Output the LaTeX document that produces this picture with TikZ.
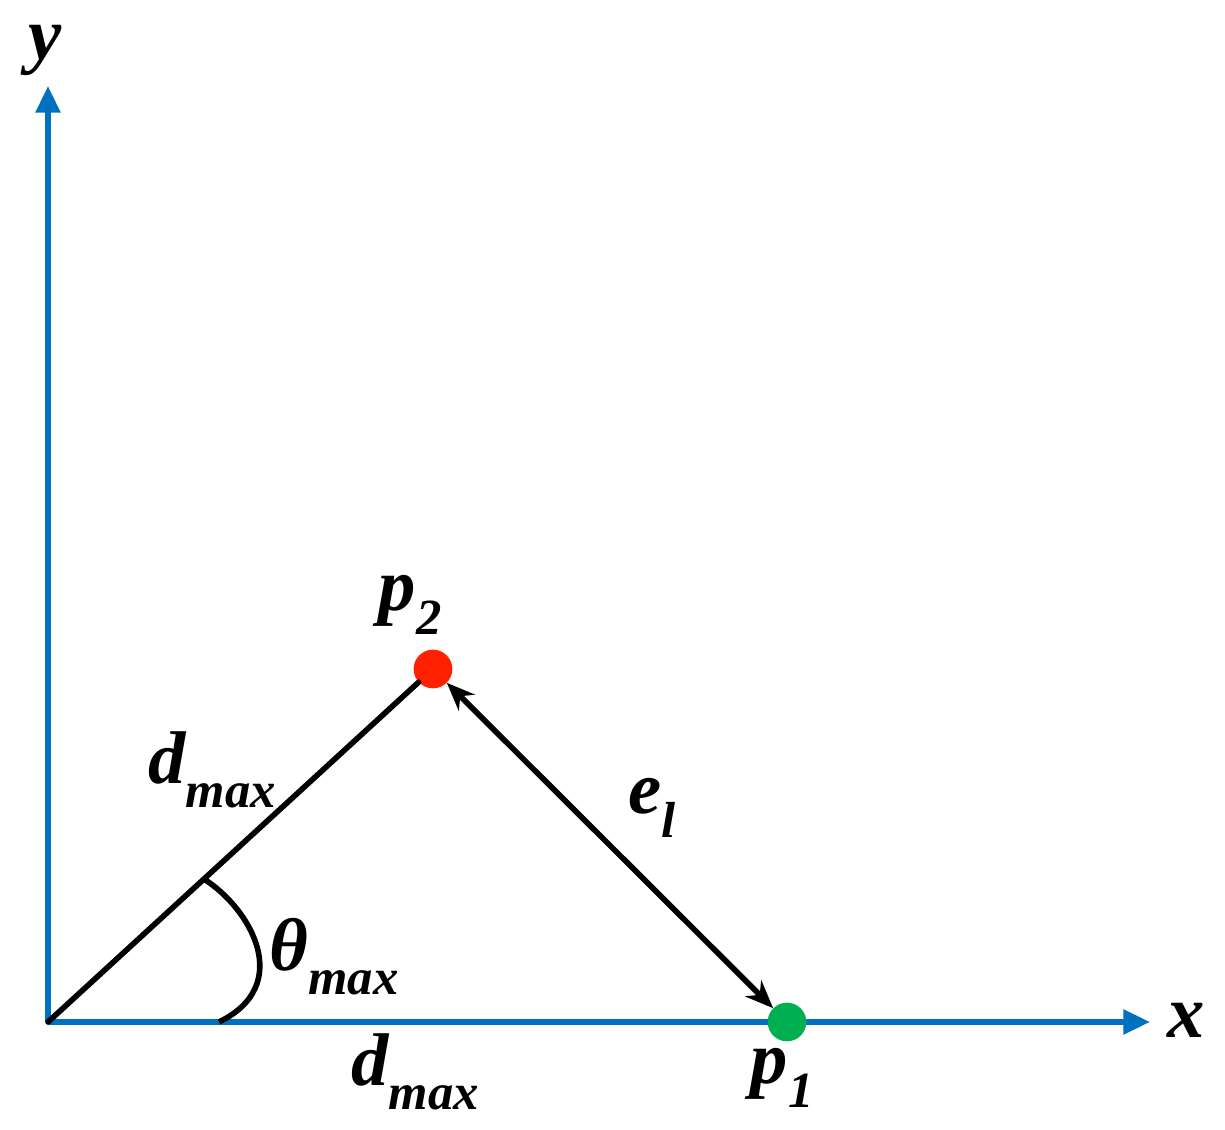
\documentclass[tikz,border=0pt]{standalone}
\usepackage{fontspec}
\setmainfont{Liberation Serif}
\usetikzlibrary{arrows.meta,calc}
\definecolor{axblue}{RGB}{0,112,192}
\definecolor{ptred}{RGB}{255,32,0}
\definecolor{ptgreen}{RGB}{0,176,80}
\newcommand{\lbl}[2]{\fontsize{56}{60}\selectfont\bfseries\itshape #1\raisebox{-0.32em}{\fontsize{38}{40}\selectfont #2}}
\begin{document}
\begin{tikzpicture}[x=0.75pt,y=-0.75pt,
  axis/.style={draw=axblue,line width=4.2pt,-{Triangle[length=20pt,width=18pt]}},
  blk/.style={draw=black,line width=4.2pt},
  dot/.style={circle,inner sep=0pt,minimum size=29pt},
  txt/.style={inner sep=0pt,font=\fontsize{56}{60}\selectfont\bfseries\itshape}]
\useasboundingbox (0,0) rectangle (1225,1130);
\coordinate (O) at (48,1022);
\coordinate (ytip) at (48,86);
\coordinate (xtip) at (1150,1022);
\draw[axis] (O) -- (ytip);
\draw[axis] (O) -- (xtip);
\node[dot,fill=ptred] (p2) at (433,669) {};
\node[dot,fill=ptgreen] (p1) at (787,1022) {};
\draw[blk,line cap=round] (O) -- (p2);
\draw[blk,{Stealth[length=21pt,width=17pt]}-{Stealth[length=21pt,width=17pt]}] (p2) -- (p1);
\coordinate (a1) at ($(O)!0.405!(p2)$);
\coordinate (a2) at (219,1022);
\draw[blk] (a1) .. controls (250,908) and (295,985) .. (a2);
\node[txt] (ly) at (45,50) {y};
\node[txt] (lx) at (1186,1020) {x};
\node[inner sep=0pt] (lp2) at (410,605) {\lbl{p}{2}};
\node[inner sep=0pt] (lp1) at (782,1078) {\lbl{p}{1}};
\node[inner sep=0pt] (ld1) at (212,770) {\lbl{d}{max}};
\node[inner sep=0pt] (ld2) at (415,1072) {\lbl{d}{max}};
\node[inner sep=0pt] (le) at (652,808) {\lbl{e}{l}};
\node[inner sep=0pt] (lt) at (334,957) {\lbl{θ}{max}};
\end{tikzpicture}
\end{document}
